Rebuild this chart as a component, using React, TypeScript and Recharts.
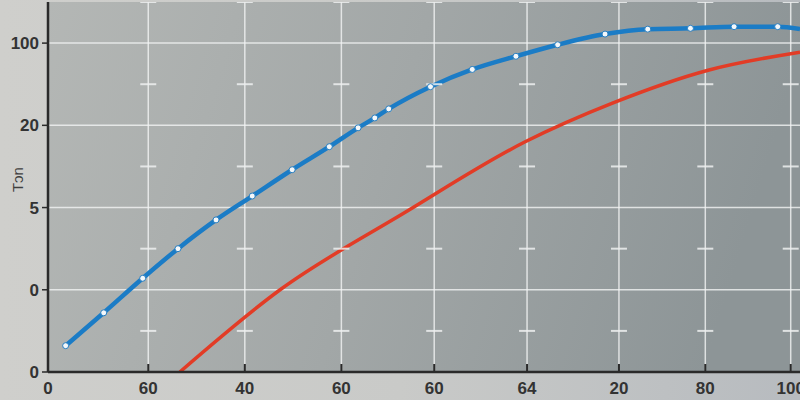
import React from "react";
import {
  ComposedChart,
  Line,
  XAxis,
  YAxis,
  CartesianGrid,
  Scatter,
  Label,
} from "recharts";

const xTickLabels = ["0", "60", "40", "60", "60", "64", "20", "80", "100"];
const xTickValues = [0, 1.08, 2.12, 3.16, 4.16, 5.16, 6.15, 7.08, 8.0];
const yTickLabels = ["0", "0", "5", "20", "100"];
const yTicks = [0, 1, 2, 3, 4];
const minorY = [0.5, 1.5, 2.5, 3.5, 4.5];
const yAxisTitle = "Tɔn";

const blueX = [0.19, 0.6, 1.02, 1.4, 1.81, 2.2, 2.63, 3.03, 3.34, 3.52, 3.67, 4.12, 4.57, 5.04, 5.49, 6.0, 6.46, 6.92, 7.39, 7.86, 8.1];
const blueY = [0.32, 0.72, 1.14, 1.5, 1.85, 2.14, 2.46, 2.74, 2.97, 3.09, 3.2, 3.47, 3.68, 3.84, 3.98, 4.11, 4.17, 4.18, 4.2, 4.2, 4.17];

const redX = [1.42, 2.5, 3.83, 5.14, 6.08, 7.11, 8.1];
const redY = [0.0, 1.0, 1.93, 2.8, 3.27, 3.67, 3.89];

const blueData = blueX.map((x, i) => ({ x, y: blueY[i] }));
const redData = redX.map((x, i) => ({ x, y: redY[i] }));
const minorData = xTickValues
  .slice(1)
  .flatMap((x) => minorY.map((y) => ({ x, y })));

const FONT = "Liberation Sans, Arial, sans-serif";

const BlueDot = (props: any) => {
  const { cx, cy, index } = props;
  if (index === blueData.length - 1 || cx == null) return <g key={index} />;
  return (
    <circle key={index} cx={cx} cy={cy} r={3} fill="#f4f8fb" stroke="#2a7fc0" strokeWidth={1} />
  );
};

const MinorMark = (props: any) => {
  const { cx, cy } = props;
  return <line x1={cx - 8} x2={cx + 8} y1={cy} y2={cy} stroke="#eef0f0" strokeWidth={2} opacity={0.85} />;
};

const XTick = (props: any) => {
  const { x, y, payload, index } = props;
  return (
    <g>
      {payload.value > 0 && (
        <line x1={x} x2={x} y1={y - 1} y2={y - 8} stroke="#2a2a2a" strokeWidth={2} />
      )}
      <text x={x} y={y + 22} textAnchor="middle" fill="#333" fontSize={17} fontWeight={600} fontFamily={FONT}>
        {xTickLabels[index]}
      </text>
    </g>
  );
};

const YTick = (props: any) => {
  const { x, y, payload } = props;
  return (
    <text x={x - 1} y={y + 6} textAnchor="end" fill="#333" fontSize={17} fontWeight={600} fontFamily={FONT}>
      {yTickLabels[payload.value]}
    </text>
  );
};

const YTitle = (props: any) => {
  const { viewBox } = props;
  const x = viewBox.x + 18;
  const y = viewBox.y + viewBox.height * 0.48;
  return (
    <text x={x} y={y} transform={`rotate(-90 ${x} ${y})`} textAnchor="middle" dominantBaseline="central" fill="#3f3f3f" fontSize={15} fontFamily={FONT}>
      {yAxisTitle}
    </text>
  );
};

export default function App() {
  return (
    <div
      style={{
        position: "fixed",
        left: 0,
        top: 0,
        width: 800,
        height: 400,
        background: "linear-gradient(90deg, #cfcfcc 0%, #c9cac8 50%, #b7bbbf 100%)",
      }}
    >
      <ComposedChart
        width={800}
        height={400}
        margin={{ top: 2, right: 0, bottom: 0, left: 0 }}
      >
        <defs>
          <linearGradient id="bg" x1="0" y1="0" x2="1" y2="0.15">
            <stop offset="0%" stopColor="#b4b7b5" />
            <stop offset="50%" stopColor="#a2a7a7" />
            <stop offset="100%" stopColor="#8d9597" />
          </linearGradient>
        </defs>
        <CartesianGrid
          fill="url(#bg)"
          fillOpacity={1}
          stroke="#f2f4f4"
          strokeOpacity={0.8}
          strokeWidth={1.5}
          horizontalValues={yTicks}
          verticalValues={xTickValues.slice(1)}
        />
        <XAxis
          type="number"
          dataKey="x"
          domain={[0, 8.1]}
          ticks={xTickValues}
          interval={0}
          tick={<XTick />}
          tickLine={false}
          tickSize={0}
          tickMargin={0}
          axisLine={{ stroke: "#2a2a2a", strokeWidth: 2.5 }}
          allowDataOverflow
          height={28}
        />
        <YAxis
          type="number"
          dataKey="y"
          domain={[0, 4.5]}
          ticks={yTicks}
          tick={<YTick />}
          tickSize={6}
          tickMargin={2}
          tickLine={{ stroke: "#2a2a2a", strokeWidth: 1.5 }}
          axisLine={{ stroke: "#2a2a2a", strokeWidth: 2.5 }}
          allowDataOverflow
          width={48}
        >
          <Label content={<YTitle />} />
        </YAxis>
        <Scatter data={minorData} shape={<MinorMark />} isAnimationActive={false} />
        <Line
          data={redData}
          dataKey="y"
          type="monotone"
          stroke="#e23c26"
          strokeWidth={3.5}
          dot={false}
          isAnimationActive={false}
        />
        <Line
          data={blueData}
          dataKey="y"
          type="monotone"
          stroke="#1b7cc6"
          strokeWidth={4.5}
          dot={<BlueDot />}
          activeDot={false}
          isAnimationActive={false}
        />
      </ComposedChart>
    </div>
  );
}
